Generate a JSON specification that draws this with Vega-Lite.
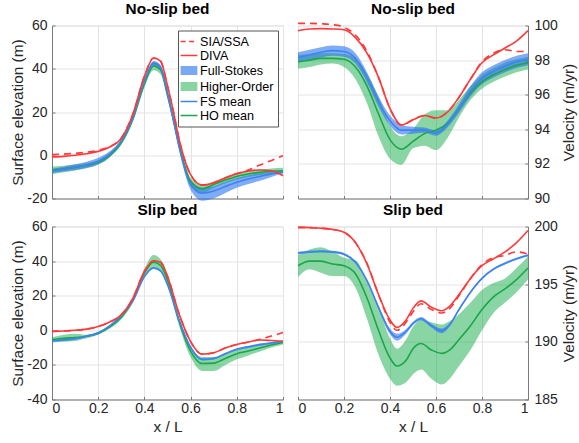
{
  "$schema": "https://vega.github.io/schema/vega-lite/v6.json",
  "padding": {"left": 10, "top": 1.5, "right": 1, "bottom": 4},
  "background": "white",
  "config": {
    "font": "Liberation Sans",
    "view": {"stroke": "#e3e3e3"},
    "axis": {
      "gridColor": "#e3e3e3", "gridWidth": 1, "domainColor": "#7a7a7a", "tickColor": "#7a7a7a",
      "labelColor": "#262626", "titleColor": "#262626", "labelFontSize": 14, "titleFontSize": 15.4,
      "titleFontWeight": "normal", "tickSize": -3, "labelPadding": 8, "titlePadding": 1, "labelOverlap": false,
      "labelFont": "Liberation Sans", "titleFont": "Liberation Sans"
    },
    "axisX": {"labelPadding": 5, "titlePadding": 4},
    "title": {"fontSize": 15.4, "fontWeight": "bold", "color": "#000", "frame": "group", "offset": 1, "font": "Liberation Sans"}
  },
  "datasets": {
    "tl": [
      {"x":0.00,"sia":0.3,"diva":-0.8,"fs":-7.2,"fsl":-8.2,"fsh":-6.2,"ho":-7.0,"hol":-8.8,"hoh":-5.2},
      {"x":0.05,"sia":0.5,"diva":-0.5,"fs":-6.4,"fsl":-7.5,"fsh":-5.3,"ho":-6.3,"hol":-7.9,"hoh":-4.8},
      {"x":0.10,"sia":0.9,"diva":0.0,"fs":-5.5,"fsl":-6.8,"fsh":-4.2,"ho":-5.6,"hol":-7.0,"hoh":-4.3},
      {"x":0.15,"sia":1.4,"diva":0.7,"fs":-4.5,"fsl":-6.0,"fsh":-3.0,"ho":-4.7,"hol":-5.8,"hoh":-3.6},
      {"x":0.20,"sia":2.3,"diva":1.8,"fs":-2.8,"fsl":-4.3,"fsh":-1.2,"ho":-3.3,"hol":-4.3,"hoh":-2.3},
      {"x":0.25,"sia":4.0,"diva":3.8,"fs":0.5,"fsl":-0.8,"fsh":1.8,"ho":0.0,"hol":-1.0,"hoh":1.0},
      {"x":0.30,"sia":8.0,"diva":7.8,"fs":6.5,"fsl":5.5,"fsh":7.5,"ho":5.8,"hol":4.8,"hoh":6.8},
      {"x":0.35,"sia":19.0,"diva":19.0,"fs":17.4,"fsl":16.4,"fsh":18.4,"ho":16.7,"hol":15.5,"hoh":17.8},
      {"x":0.40,"sia":36.5,"diva":36.5,"fs":34.5,"fsl":33.5,"fsh":35.5,"ho":33.0,"hol":31.5,"hoh":34.5},
      {"x":0.44,"sia":45.0,"diva":45.0,"fs":42.5,"fsl":41.3,"fsh":43.6,"ho":41.3,"hol":39.3,"hoh":43.2},
      {"x":0.47,"sia":43.5,"diva":43.5,"fs":40.5,"fsl":39.3,"fsh":41.7,"ho":39.5,"hol":37.5,"hoh":41.5},
      {"x":0.50,"sia":32.0,"diva":32.0,"fs":28.5,"fsl":27.0,"fsh":30.0,"ho":28.0,"hol":26.0,"hoh":30.0},
      {"x":0.525,"sia":20.5,"diva":20.5,"fs":16.5,"fsl":15.0,"fsh":18.0,"ho":17.0,"hol":15.0,"hoh":19.0},
      {"x":0.55,"sia":7.5,"diva":7.5,"fs":4.0,"fsl":2.5,"fsh":5.5,"ho":5.0,"hol":3.0,"hoh":7.0},
      {"x":0.60,"sia":-9.0,"diva":-9.0,"fs":-13.5,"fsl":-16.0,"fsh":-11.5,"ho":-12.0,"hol":-14.0,"hoh":-10.5},
      {"x":0.65,"sia":-13.8,"diva":-13.8,"fs":-17.5,"fsl":-21.0,"fsh":-15.0,"ho":-15.5,"hol":-17.5,"hoh":-13.8},
      {"x":0.70,"sia":-12.8,"diva":-12.8,"fs":-16.5,"fsl":-20.0,"fsh":-14.3,"ho":-13.5,"hol":-15.2,"hoh":-12.0},
      {"x":0.75,"sia":-10.5,"diva":-10.5,"fs":-14.5,"fsl":-17.5,"fsh":-12.3,"ho":-11.5,"hol":-13.0,"hoh":-10.2},
      {"x":0.80,"sia":-8.5,"diva":-8.5,"fs":-12.5,"fsl":-15.0,"fsh":-10.5,"ho":-9.8,"hol":-11.2,"hoh":-8.5},
      {"x":0.85,"sia":-6.8,"diva":-7.3,"fs":-11.0,"fsl":-13.3,"fsh":-9.3,"ho":-8.7,"hol":-10.0,"hoh":-7.4},
      {"x":0.90,"sia":-4.5,"diva":-6.8,"fs":-9.8,"fsl":-11.8,"fsh":-8.3,"ho":-7.9,"hol":-9.2,"hoh":-6.6},
      {"x":0.95,"sia":-2.4,"diva":-7.2,"fs":-8.6,"fsl":-10.0,"fsh":-7.6,"ho":-7.4,"hol":-8.7,"hoh":-6.1},
      {"x":1.00,"sia":-0.2,"diva":-9.5,"fs":-7.6,"fsl":-8.3,"fsh":-7.0,"ho":-7.2,"hol":-8.5,"hoh":-5.8}
    ],
    "tr": [
      {"x":0.00,"sia":100.12,"diva":99.7,"fs":98.15,"fsl":97.85,"fsh":98.45,"ho":97.9,"hol":97.5,"hoh":98.3},
      {"x":0.05,"sia":100.12,"diva":99.8,"fs":98.3,"fsl":98.0,"fsh":98.6,"ho":98.0,"hol":97.6,"hoh":98.35},
      {"x":0.10,"sia":100.1,"diva":99.82,"fs":98.45,"fsl":98.15,"fsh":98.75,"ho":98.1,"hol":97.75,"hoh":98.4},
      {"x":0.15,"sia":100.05,"diva":99.8,"fs":98.55,"fsl":98.25,"fsh":98.85,"ho":98.1,"hol":97.8,"hoh":98.4},
      {"x":0.20,"sia":99.9,"diva":99.75,"fs":98.5,"fsl":98.2,"fsh":98.8,"ho":98.05,"hol":97.6,"hoh":98.35},
      {"x":0.25,"sia":99.45,"diva":99.3,"fs":98.1,"fsl":97.8,"fsh":98.4,"ho":97.6,"hol":96.9,"hoh":98.1},
      {"x":0.30,"sia":98.5,"diva":98.4,"fs":97.0,"fsl":96.7,"fsh":97.3,"ho":96.5,"hol":95.5,"hoh":97.2},
      {"x":0.35,"sia":97.0,"diva":97.0,"fs":95.6,"fsl":95.3,"fsh":95.9,"ho":94.9,"hol":93.6,"hoh":95.9},
      {"x":0.40,"sia":95.2,"diva":95.2,"fs":94.5,"fsl":94.2,"fsh":94.8,"ho":93.4,"hol":92.3,"hoh":94.2},
      {"x":0.45,"sia":94.25,"diva":94.25,"fs":93.95,"fsl":93.7,"fsh":94.25,"ho":92.85,"hol":91.95,"hoh":93.6},
      {"x":0.50,"sia":94.55,"diva":94.55,"fs":93.95,"fsl":93.75,"fsh":94.15,"ho":93.3,"hol":92.9,"hoh":94.0},
      {"x":0.55,"sia":94.8,"diva":94.8,"fs":93.95,"fsl":93.8,"fsh":94.1,"ho":93.75,"hol":93.05,"hoh":94.85},
      {"x":0.60,"sia":94.65,"diva":94.65,"fs":93.78,"fsl":93.63,"fsh":93.93,"ho":93.95,"hol":92.8,"hoh":95.1},
      {"x":0.65,"sia":95.0,"diva":95.0,"fs":94.3,"fsl":94.1,"fsh":94.5,"ho":94.35,"hol":93.5,"hoh":95.1},
      {"x":0.70,"sia":95.85,"diva":95.85,"fs":95.2,"fsl":94.95,"fsh":95.45,"ho":95.2,"hol":94.7,"hoh":95.7},
      {"x":0.75,"sia":96.9,"diva":96.9,"fs":96.2,"fsl":95.9,"fsh":96.5,"ho":96.1,"hol":95.7,"hoh":96.5},
      {"x":0.80,"sia":97.9,"diva":97.85,"fs":96.95,"fsl":96.6,"fsh":97.3,"ho":96.75,"hol":96.35,"hoh":97.15},
      {"x":0.85,"sia":98.4,"diva":98.3,"fs":97.35,"fsl":97.0,"fsh":97.7,"ho":97.15,"hol":96.75,"hoh":97.55},
      {"x":0.90,"sia":98.6,"diva":98.7,"fs":97.65,"fsl":97.3,"fsh":98.0,"ho":97.45,"hol":97.05,"hoh":97.85},
      {"x":0.95,"sia":98.5,"diva":99.1,"fs":97.9,"fsl":97.55,"fsh":98.25,"ho":97.7,"hol":97.3,"hoh":98.05},
      {"x":1.00,"sia":98.5,"diva":99.7,"fs":98.05,"fsl":97.7,"fsh":98.4,"ho":97.85,"hol":97.45,"hoh":98.2}
    ],
    "bl": [
      {"x":0.00,"sia":-0.6,"diva":-0.6,"fs":-6.0,"fsl":-6.6,"fsh":-5.4,"ho":-5.4,"hol":-7.0,"hoh":-4.0},
      {"x":0.05,"sia":-0.4,"diva":-0.4,"fs":-5.6,"fsl":-6.2,"fsh":-5.0,"ho":-4.6,"hol":-6.6,"hoh":-2.5},
      {"x":0.10,"sia":0.0,"diva":0.0,"fs":-4.8,"fsl":-5.4,"fsh":-4.2,"ho":-4.2,"hol":-6.2,"hoh":-2.0},
      {"x":0.15,"sia":0.7,"diva":0.7,"fs":-3.4,"fsl":-4.0,"fsh":-2.8,"ho":-3.4,"hol":-4.6,"hoh":-2.6},
      {"x":0.20,"sia":2.2,"diva":2.2,"fs":-1.5,"fsl":-2.1,"fsh":-0.9,"ho":-1.8,"hol":-2.6,"hoh":-1.0},
      {"x":0.25,"sia":4.8,"diva":4.8,"fs":2.5,"fsl":1.9,"fsh":3.1,"ho":2.0,"hol":1.0,"hoh":3.0},
      {"x":0.30,"sia":9.0,"diva":9.0,"fs":8.5,"fsl":7.9,"fsh":9.1,"ho":7.5,"hol":6.3,"hoh":8.7},
      {"x":0.35,"sia":18.5,"diva":18.5,"fs":17.0,"fsl":16.4,"fsh":17.6,"ho":17.5,"hol":15.8,"hoh":19.2},
      {"x":0.40,"sia":34.0,"diva":34.0,"fs":31.0,"fsl":30.4,"fsh":31.6,"ho":33.0,"hol":30.5,"hoh":35.5},
      {"x":0.44,"sia":40.2,"diva":40.2,"fs":36.0,"fsl":35.4,"fsh":36.6,"ho":39.3,"hol":36.3,"hoh":43.5},
      {"x":0.47,"sia":39.3,"diva":39.3,"fs":34.3,"fsl":33.7,"fsh":34.9,"ho":37.5,"hol":34.5,"hoh":41.0},
      {"x":0.50,"sia":31.2,"diva":31.2,"fs":26.3,"fsl":25.7,"fsh":26.9,"ho":29.0,"hol":26.0,"hoh":32.0},
      {"x":0.55,"sia":9.5,"diva":9.5,"fs":6.0,"fsl":5.4,"fsh":6.6,"ho":5.2,"hol":2.7,"hoh":7.7},
      {"x":0.60,"sia":-6.5,"diva":-6.5,"fs":-9.8,"fsl":-10.4,"fsh":-9.2,"ho":-12.0,"hol":-15.5,"hoh":-9.0},
      {"x":0.65,"sia":-13.8,"diva":-13.8,"fs":-16.8,"fsl":-17.4,"fsh":-16.2,"ho":-19.2,"hol":-23.5,"hoh":-15.5},
      {"x":0.70,"sia":-13.0,"diva":-13.0,"fs":-16.3,"fsl":-16.9,"fsh":-15.7,"ho":-19.0,"hol":-23.5,"hoh":-15.5},
      {"x":0.75,"sia":-10.3,"diva":-10.3,"fs":-13.6,"fsl":-14.2,"fsh":-13.0,"ho":-16.3,"hol":-20.0,"hoh":-13.5},
      {"x":0.80,"sia":-8.2,"diva":-8.2,"fs":-11.0,"fsl":-11.6,"fsh":-10.4,"ho":-13.5,"hol":-16.8,"hoh":-11.2},
      {"x":0.85,"sia":-6.8,"diva":-6.8,"fs":-9.6,"fsl":-10.2,"fsh":-9.0,"ho":-12.0,"hol":-14.5,"hoh":-10.0},
      {"x":0.90,"sia":-5.2,"diva":-5.6,"fs":-8.3,"fsl":-8.9,"fsh":-7.7,"ho":-10.2,"hol":-12.3,"hoh":-8.6},
      {"x":0.95,"sia":-3.3,"diva":-5.9,"fs":-7.3,"fsl":-7.9,"fsh":-6.7,"ho":-8.5,"hol":-10.0,"hoh":-7.2},
      {"x":1.00,"sia":-1.3,"diva":-6.3,"fs":-6.5,"fsl":-7.1,"fsh":-5.9,"ho":-7.0,"hol":-8.2,"hoh":-6.0}
    ],
    "br": [
      {"x":0.00,"sia":199.9,"diva":199.95,"fs":197.7,"fsl":197.6,"fsh":197.8,"ho":196.6,"hol":195.6,"hoh":197.5},
      {"x":0.05,"sia":199.9,"diva":199.9,"fs":197.8,"fsl":197.7,"fsh":197.9,"ho":197.0,"hol":196.3,"hoh":198.0},
      {"x":0.10,"sia":199.85,"diva":199.85,"fs":197.85,"fsl":197.75,"fsh":197.95,"ho":197.0,"hol":196.0,"hoh":198.2},
      {"x":0.15,"sia":199.75,"diva":199.75,"fs":197.8,"fsl":197.7,"fsh":197.9,"ho":196.75,"hol":195.7,"hoh":197.8},
      {"x":0.20,"sia":199.5,"diva":199.5,"fs":197.6,"fsl":197.5,"fsh":197.7,"ho":196.6,"hol":195.7,"hoh":197.3},
      {"x":0.25,"sia":198.6,"diva":198.6,"fs":196.9,"fsl":196.8,"fsh":197.0,"ho":195.9,"hol":194.7,"hoh":197.1},
      {"x":0.30,"sia":196.8,"diva":196.75,"fs":195.3,"fsl":195.2,"fsh":195.4,"ho":193.8,"hol":192.0,"hoh":195.2},
      {"x":0.35,"sia":194.1,"diva":194.1,"fs":193.0,"fsl":192.85,"fsh":193.15,"ho":191.0,"hol":188.9,"hoh":193.0},
      {"x":0.40,"sia":191.7,"diva":191.9,"fs":190.9,"fsl":190.65,"fsh":191.15,"ho":188.6,"hol":186.8,"hoh":190.3},
      {"x":0.43,"sia":191.0,"diva":191.25,"fs":190.4,"fsl":190.1,"fsh":190.7,"ho":187.9,"hol":186.2,"hoh":189.4},
      {"x":0.47,"sia":191.7,"diva":191.9,"fs":190.9,"fsl":190.7,"fsh":191.1,"ho":188.4,"hol":186.5,"hoh":190.2},
      {"x":0.50,"sia":192.6,"diva":192.9,"fs":191.6,"fsl":191.45,"fsh":191.75,"ho":189.4,"hol":187.2,"hoh":191.3},
      {"x":0.535,"sia":193.3,"diva":193.55,"fs":192.0,"fsl":191.85,"fsh":192.15,"ho":189.85,"hol":187.6,"hoh":191.9},
      {"x":0.58,"sia":192.8,"diva":193.0,"fs":191.4,"fsl":191.25,"fsh":191.55,"ho":189.3,"hol":186.8,"hoh":191.7},
      {"x":0.625,"sia":192.5,"diva":192.7,"fs":190.95,"fsl":190.75,"fsh":191.15,"ho":189.0,"hol":186.3,"hoh":191.5},
      {"x":0.66,"sia":192.9,"diva":193.1,"fs":191.5,"fsl":191.35,"fsh":191.65,"ho":189.3,"hol":186.8,"hoh":191.8},
      {"x":0.70,"sia":194.0,"diva":194.1,"fs":192.8,"fsl":192.7,"fsh":192.9,"ho":190.2,"hol":187.9,"hoh":192.4},
      {"x":0.75,"sia":195.5,"diva":195.5,"fs":194.3,"fsl":194.2,"fsh":194.4,"ho":191.4,"hol":189.3,"hoh":193.4},
      {"x":0.80,"sia":196.7,"diva":196.6,"fs":195.5,"fsl":195.4,"fsh":195.6,"ho":192.8,"hol":191.0,"hoh":194.5},
      {"x":0.85,"sia":197.3,"diva":197.2,"fs":196.3,"fsl":196.2,"fsh":196.4,"ho":193.9,"hol":192.5,"hoh":195.1},
      {"x":0.90,"sia":197.5,"diva":197.8,"fs":196.8,"fsl":196.7,"fsh":196.9,"ho":194.6,"hol":193.4,"hoh":195.5},
      {"x":0.95,"sia":197.8,"diva":198.6,"fs":197.2,"fsl":197.1,"fsh":197.3,"ho":195.4,"hol":194.3,"hoh":196.4},
      {"x":1.00,"sia":197.6,"diva":199.65,"fs":197.5,"fsl":197.4,"fsh":197.6,"ho":196.4,"hol":195.4,"hoh":197.4}
    ],
    "series": [
      {"series": "SIA/SSA"}, {"series": "DIVA"}, {"series": "Full-Stokes"}, {"series": "Higher-Order"}, {"series": "FS mean"}, {"series": "HO mean"}
    ]
  },
  "resolve": {
    "scale": {"fill": "independent", "stroke": "independent", "shape": "independent", "strokeDash": "independent"},
    "legend": {"fill": "independent", "stroke": "independent", "shape": "independent", "strokeDash": "independent"}
  },
  "columns": 2,
  "spacing": {"row": 28, "column": 15},
  "bounds": "flush",
  "concat": [
    {
      "title": "No-slip bed",
      "width": 231, "height": 173,
      "layer": [
        {"data": {"name": "tl"}, "mark": {"type": "area", "interpolate": "monotone", "opacity": 0.5, "color": "#14ab48"},
         "encoding": {"x": {"field": "x", "type": "quantitative", "scale": {"domain": [0, 1], "nice": false}, "axis": {"values": [0,0.2,0.4,0.6,0.8,1], "tickCount": 10, "labels": false, "title": null}},
                      "y": {"field": "hol", "type": "quantitative", "scale": {"domain": [-20, 60], "nice": false, "zero": false}, "axis": {"values": [-20,0,20,40,60], "tickCount": 10, "labelExpr": "'' + datum.value", "labelOverlap": false, "title": "Surface elevation (m)"}},
                      "y2": {"field": "hoh"}}},
        {"data": {"name": "tl"}, "mark": {"type": "area", "interpolate": "monotone", "opacity": 0.6, "color": "#2b73ee"},
         "encoding": {"x": {"field": "x", "type": "quantitative"}, "y": {"field": "fsl", "type": "quantitative"}, "y2": {"field": "fsh"}}},
        {"data": {"name": "tl"}, "mark": {"type": "line", "interpolate": "monotone", "strokeWidth": 1.6, "color": "#1aa64a"},
         "encoding": {"x": {"field": "x", "type": "quantitative"}, "y": {"field": "ho", "type": "quantitative"}}},
        {"data": {"name": "tl"}, "mark": {"type": "line", "interpolate": "monotone", "strokeWidth": 1.6, "color": "#3c84f2"},
         "encoding": {"x": {"field": "x", "type": "quantitative"}, "y": {"field": "fs", "type": "quantitative"}}},
        {"data": {"name": "tl"}, "mark": {"type": "line", "interpolate": "monotone", "strokeWidth": 1.6, "color": "#ff3838"},
         "encoding": {"x": {"field": "x", "type": "quantitative"}, "y": {"field": "diva", "type": "quantitative"}}},
        {"data": {"name": "tl"}, "mark": {"type": "line", "interpolate": "monotone", "strokeWidth": 1.6, "strokeDash": [7, 5], "color": "#ff3838"},
         "encoding": {"x": {"field": "x", "type": "quantitative"}, "y": {"field": "sia", "type": "quantitative"}}},
        {"data": {"name": "series"}, "mark": {"type": "point", "opacity": 0},
         "encoding": {
           "fill": {"field": "series", "type": "nominal",
             "scale": {"domain": ["SIA/SSA","DIVA","Full-Stokes","Higher-Order","FS mean","HO mean"], "range": ["transparent","transparent","#7aa9f4","#88d5a2","transparent","transparent"]},
             "legend": {"orient": "top-right", "offset": 5, "title": null, "strokeColor": "#555", "fillColor": "#ffffff", "padding": 4, "labelFontSize": 12.6, "labelColor": "#000", "labelFont": "Liberation Sans", "symbolSize": 144, "symbolOpacity": 1, "symbolStrokeWidth": 1.6, "rowPadding": 0, "labelOffset": 4}},
           "stroke": {"field": "series", "type": "nominal",
             "scale": {"domain": ["SIA/SSA","DIVA","Full-Stokes","Higher-Order","FS mean","HO mean"], "range": ["#ff3838","#ff3838","transparent","transparent","#3c84f2","#1aa64a"]},
             "legend": {"orient": "top-right", "title": null, "symbolOpacity": 1}},
           "shape": {"field": "series", "type": "nominal",
             "scale": {"domain": ["SIA/SSA","DIVA","Full-Stokes","Higher-Order","FS mean","HO mean"], "range": ["M-1.4,0H1.4","M-1.4,0H1.4","M-1.4,-0.75H1.4V0.75H-1.4Z","M-1.4,-0.75H1.4V0.75H-1.4Z","M-1.4,0H1.4","M-1.4,0H1.4"]},
             "legend": {"orient": "top-right", "title": null, "symbolOpacity": 1}},
           "strokeDash": {"field": "series", "type": "nominal",
             "scale": {"domain": ["SIA/SSA","DIVA","Full-Stokes","Higher-Order","FS mean","HO mean"], "range": [[5,3.5],[1,0],[1,0],[1,0],[1,0],[1,0]]},
             "legend": {"orient": "top-right", "title": null, "symbolOpacity": 1}}
         }}
      ]
    },
    {
      "title": "No-slip bed",
      "width": 230, "height": 173,
      "data": {"name": "tr"},
      "encoding": {"x": {"field": "x", "type": "quantitative", "scale": {"domain": [0, 1], "nice": false}, "axis": {"values": [0,0.2,0.4,0.6,0.8,1], "tickCount": 10, "labels": false, "title": null}}},
      "layer": [
        {"mark": {"type": "area", "interpolate": "monotone", "opacity": 0.5, "color": "#14ab48"},
         "encoding": {"y": {"field": "hol", "type": "quantitative", "scale": {"domain": [90, 100], "nice": false, "zero": false}, "axis": {"orient": "right", "values": [90,92,94,96,98,100], "tickCount": 10, "labelExpr": "'' + datum.value", "labelOverlap": false, "labelPadding": 9, "title": "Velocity (m/yr)", "titleAngle": 270, "titleBaseline": "top", "titlePadding": 4}}, "y2": {"field": "hoh"}}},
        {"mark": {"type": "area", "interpolate": "monotone", "opacity": 0.6, "color": "#2b73ee"},
         "encoding": {"y": {"field": "fsl", "type": "quantitative"}, "y2": {"field": "fsh"}}},
        {"mark": {"type": "line", "interpolate": "monotone", "strokeWidth": 1.6, "color": "#1aa64a"},
         "encoding": {"y": {"field": "ho", "type": "quantitative"}}},
        {"mark": {"type": "line", "interpolate": "monotone", "strokeWidth": 1.6, "color": "#3c84f2"},
         "encoding": {"y": {"field": "fs", "type": "quantitative"}}},
        {"mark": {"type": "line", "interpolate": "monotone", "strokeWidth": 1.6, "color": "#ff3838"},
         "encoding": {"y": {"field": "diva", "type": "quantitative"}}},
        {"mark": {"type": "line", "interpolate": "monotone", "strokeWidth": 1.6, "strokeDash": [7, 5], "color": "#ff3838"},
         "encoding": {"y": {"field": "sia", "type": "quantitative"}}}
      ]
    },
    {
      "title": "Slip bed",
      "width": 231, "height": 173,
      "data": {"name": "bl"},
      "encoding": {"x": {"field": "x", "type": "quantitative", "scale": {"domain": [0, 1], "nice": false}, "axis": {"values": [0,0.2,0.4,0.6,0.8,1], "tickCount": 10, "format": "~g", "title": "x / L"}}},
      "layer": [
        {"mark": {"type": "area", "interpolate": "monotone", "opacity": 0.5, "color": "#14ab48"},
         "encoding": {"y": {"field": "hol", "type": "quantitative", "scale": {"domain": [-40, 60], "nice": false, "zero": false}, "axis": {"values": [-40,-20,0,20,40,60], "tickCount": 10, "labelExpr": "'' + datum.value", "labelOverlap": false, "title": "Surface elevation (m)"}}, "y2": {"field": "hoh"}}},
        {"mark": {"type": "area", "interpolate": "monotone", "opacity": 0.6, "color": "#2b73ee"},
         "encoding": {"y": {"field": "fsl", "type": "quantitative"}, "y2": {"field": "fsh"}}},
        {"mark": {"type": "line", "interpolate": "monotone", "strokeWidth": 1.6, "color": "#1aa64a"},
         "encoding": {"y": {"field": "ho", "type": "quantitative"}}},
        {"mark": {"type": "line", "interpolate": "monotone", "strokeWidth": 1.6, "color": "#3c84f2"},
         "encoding": {"y": {"field": "fs", "type": "quantitative"}}},
        {"mark": {"type": "line", "interpolate": "monotone", "strokeWidth": 1.6, "color": "#ff3838"},
         "encoding": {"y": {"field": "diva", "type": "quantitative"}}},
        {"mark": {"type": "line", "interpolate": "monotone", "strokeWidth": 1.6, "strokeDash": [7, 5], "color": "#ff3838"},
         "encoding": {"y": {"field": "sia", "type": "quantitative"}}}
      ]
    },
    {
      "title": "Slip bed",
      "width": 230, "height": 173,
      "data": {"name": "br"},
      "encoding": {"x": {"field": "x", "type": "quantitative", "scale": {"domain": [0, 1], "nice": false}, "axis": {"values": [0,0.2,0.4,0.6,0.8,1], "tickCount": 10, "format": "~g", "title": "x / L"}}},
      "layer": [
        {"mark": {"type": "area", "interpolate": "monotone", "opacity": 0.5, "color": "#14ab48"},
         "encoding": {"y": {"field": "hol", "type": "quantitative", "scale": {"domain": [185, 200], "nice": false, "zero": false}, "axis": {"orient": "right", "values": [185,190,195,200], "tickCount": 10, "labelExpr": "'' + datum.value", "labelOverlap": false, "labelPadding": 9, "title": "Velocity (m/yr)", "titleAngle": 270, "titleBaseline": "top", "titlePadding": 4}}, "y2": {"field": "hoh"}}},
        {"mark": {"type": "area", "interpolate": "monotone", "opacity": 0.6, "color": "#2b73ee"},
         "encoding": {"y": {"field": "fsl", "type": "quantitative"}, "y2": {"field": "fsh"}}},
        {"mark": {"type": "line", "interpolate": "monotone", "strokeWidth": 1.6, "color": "#1aa64a"},
         "encoding": {"y": {"field": "ho", "type": "quantitative"}}},
        {"mark": {"type": "line", "interpolate": "monotone", "strokeWidth": 1.6, "color": "#3c84f2"},
         "encoding": {"y": {"field": "fs", "type": "quantitative"}}},
        {"mark": {"type": "line", "interpolate": "monotone", "strokeWidth": 1.6, "color": "#ff3838"},
         "encoding": {"y": {"field": "diva", "type": "quantitative"}}},
        {"mark": {"type": "line", "interpolate": "monotone", "strokeWidth": 1.6, "strokeDash": [7, 5], "color": "#ff3838"},
         "encoding": {"y": {"field": "sia", "type": "quantitative"}}}
      ]
    }
  ]
}
